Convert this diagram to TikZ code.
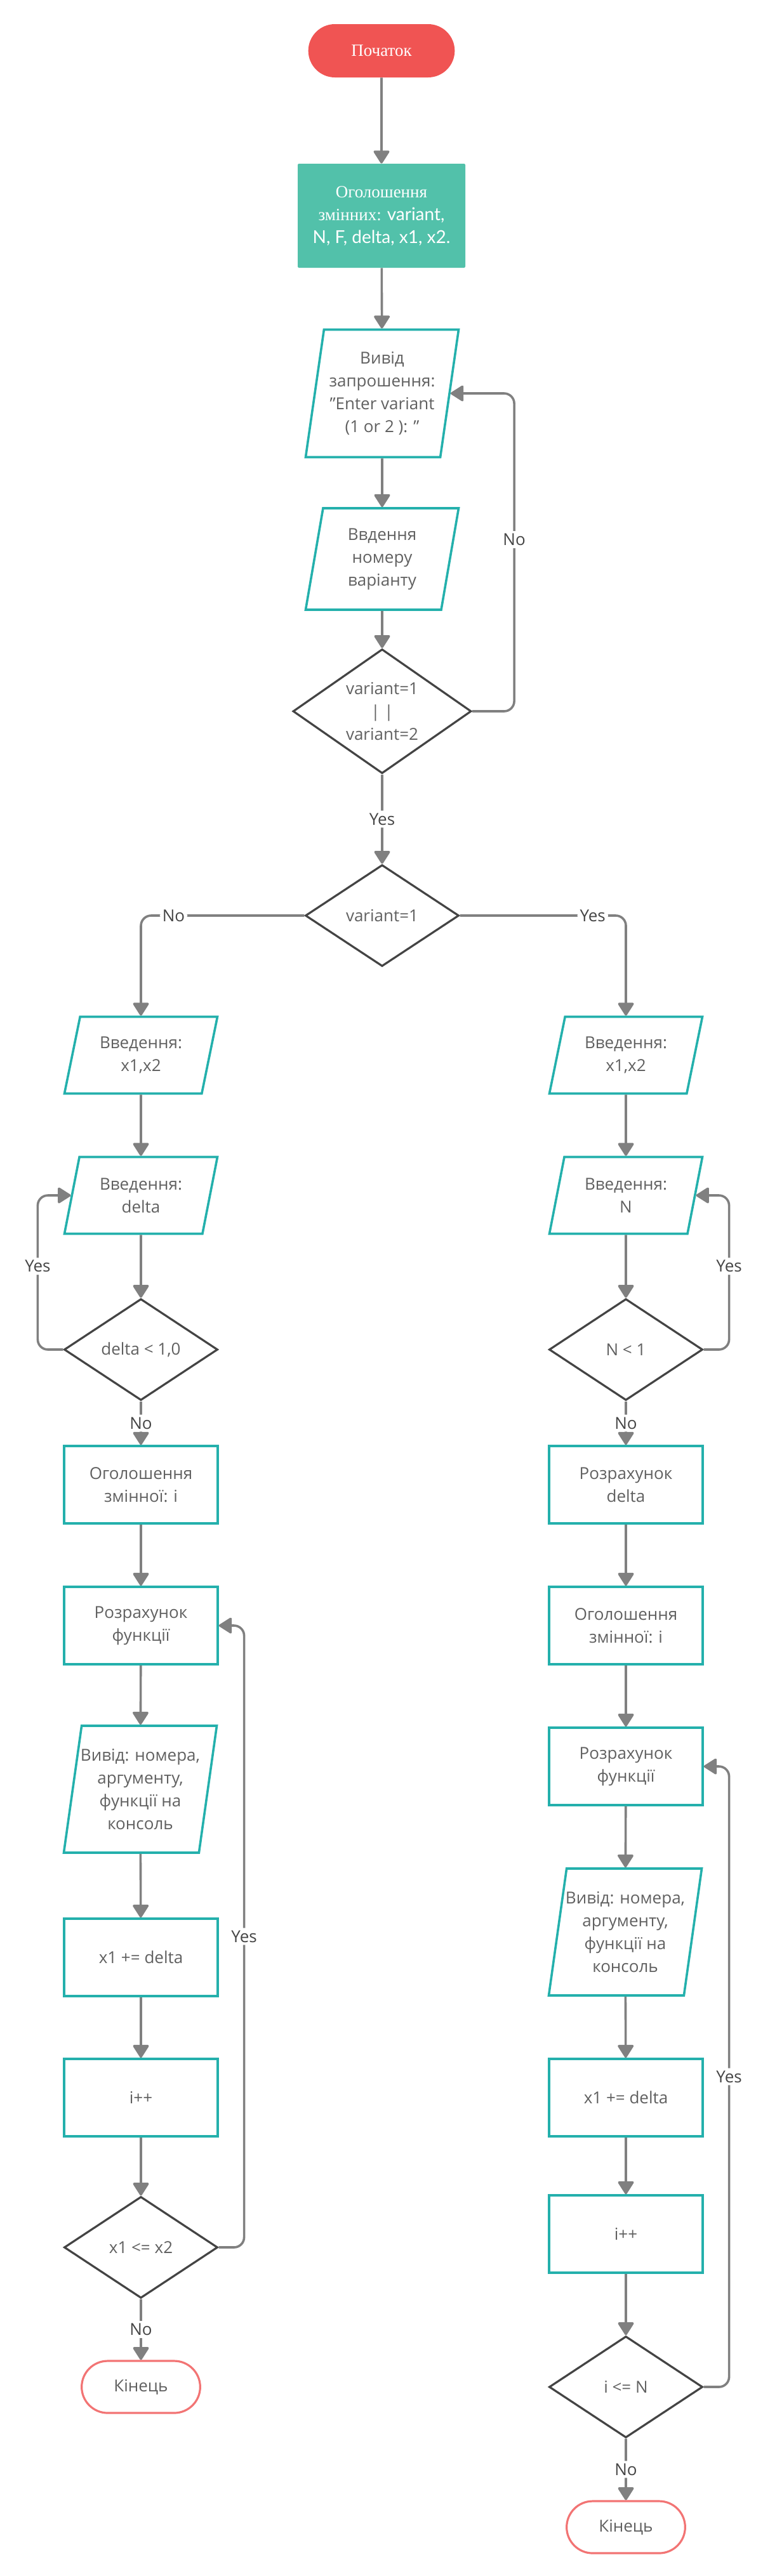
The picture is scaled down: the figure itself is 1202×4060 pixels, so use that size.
\documentclass[tikz,border=0pt]{standalone}
\usepackage{fontspec}
\setmainfont{Open Sans}
\newfontfamily\serifcyr{Liberation Serif}
\newfontfamily\latosans{Lato}
\usetikzlibrary{arrows.meta,shapes.geometric,shapes.misc}

\definecolor{startred}{HTML}{F05453}
\definecolor{endred}{HTML}{F27474}
\definecolor{declteal}{HTML}{52C1AA}
\definecolor{boxteal}{HTML}{24B0AC}
\definecolor{linegray}{HTML}{808080}
\definecolor{diagray}{HTML}{444444}
\definecolor{txtgray}{HTML}{606060}
\definecolor{lblgray}{HTML}{454545}

\begin{document}
\begin{tikzpicture}[x=0.5pt,y=-0.5pt,
  every node/.style={font=\fontsize{13}{18}\selectfont,text=txtgray,align=center},
  startnode/.style={rounded rectangle,fill=startred,minimum width=122pt,minimum height=42pt,
    text=white,font=\serifcyr\fontsize{13.5}{16}\selectfont},
  endnode/.style={rounded rectangle,draw=endred,line width=1.6pt,minimum width=100pt,minimum height=41pt},
  declbox/.style={rectangle,fill=declteal,rounded corners=1pt,minimum width=132pt,minimum height=82pt,
    text=white,font=\serifcyr\fontsize{13.5}{18}\selectfont},
  procbox/.style={rectangle,draw=boxteal,line width=1.8pt,minimum width=121pt,minimum height=61pt},
  iobox/.style 2 args={trapezium,trapezium stretches body,draw=boxteal,line width=1.8pt,
    trapezium left angle=#1,trapezium right angle=180-#1,minimum width=120.5pt,minimum height=#2,
    inner xsep=-15pt},
  decision/.style={diamond,draw=diagray,line width=1.6pt,inner sep=0pt,aspect=1.4,
    minimum width=121pt,minimum height=80pt},
  lbl/.style={fill=white,inner sep=2pt,text=lblgray},
  arr/.style={draw=linegray,line width=1.8pt,rounded corners=8pt,
    -{Triangle[length=11pt,width=13.5pt,round]}}]

  \useasboundingbox (0,0) rectangle (1202,4060);

  % top part
  \node[startnode] (start) at (601,80) {Початок};
  \node[declbox] (decl) at (601,340) {Оголошення\\змінних: {\latosans\fontsize{14}{18}\selectfont variant,}\\
    {\latosans\fontsize{14}{18}\selectfont N, F, delta, x1, x2.}};
  \node[iobox={78.7}{100.5pt}] (prompt) at (602,620) {Вивід\\запрошення:\\"Enter variant\\(1 or 2 ): "};
  \node[iobox={76}{80pt}] (readv) at (602,881) {Ввдення\\номеру\\варіанту};
  \node[decision,minimum width=140.5pt,minimum height=98pt] (chk) at (602,1121) {variant=1\\| |\\variant=2};
  \node[decision] (choice) at (602,1443) {variant=1};

  % variant 2
  \node[iobox={70.9}{60.5pt}] (inL) at (222,1663) {Введення:\\x1,x2};
  \node[iobox={70.9}{60.5pt}] (dL) at (222,1884) {Введення:\\delta};
  \node[decision] (cL) at (222,2127) {delta < 1,0};
  \node[procbox] (declL) at (222,2340) {Оголошення\\змінної: і};
  \node[procbox] (calcL) at (222,2562) {Розрахунок\\функції};
  \node[iobox={78.7}{100pt}] (outL) at (221,2820) {Вивід: номера,\\аргументу,\\функції на\\консоль};
  \node[procbox] (addL) at (222,3085) {x1 += delta};
  \node[procbox] (incL) at (222,3306) {i++};
  \node[decision] (loopL) at (222,3542) {x1 <= x2};
  \node[endnode] (endL) at (222,3762) {Кінець};

  % variant 1
  \node[iobox={70.9}{60.5pt}] (inR) at (986,1663) {Введення:\\x1,x2};
  \node[iobox={70.9}{60.5pt}] (nR) at (986,1884) {Введення:\\N};
  \node[decision] (cR) at (986,2127) {N < 1};
  \node[procbox] (deltaR) at (986,2340) {Розрахунок\\delta};
  \node[procbox] (declR) at (986,2562) {Оголошення\\змінної: і};
  \node[procbox] (calcR) at (986,2784) {Розрахунок\\функції};
  \node[iobox={78.7}{100pt}] (outR) at (985,3045) {Вивід: номера,\\аргументу,\\функції на\\консоль};
  \node[procbox] (addR) at (986,3306) {x1 += delta};
  \node[procbox] (incR) at (986,3521) {i++};
  \node[decision] (loopR) at (986,3762) {i <= N};
  \node[endnode] (endR) at (986,3983) {Кінець};

  \foreach \a/\b in {start/decl,decl/prompt,prompt/readv,readv/chk,
      inL/dL,dL/cL,declL/calcL,calcL/outL,outL/addL,addL/incL,incL/loopL,
      inR/nR,nR/cR,deltaR/declR,declR/calcR,calcR/outR,outR/addR,addR/incR,incR/loopR}
    \draw[arr] (\a) -- (\b);

  \draw[arr] (chk) -- node[lbl] {Yes} (choice);
  \draw[arr] (chk.east) -- ++(66,0) |- node[lbl,pos=0.27] {No} (prompt.east);
  \draw[arr] (choice.west) -| node[lbl,pos=0.4] {No} (inL.north);
  \draw[arr] (choice.east) -| node[lbl,pos=0.4] {Yes} (inR.north);

  \draw[arr] (cL.west) -- ++(-40,0) |- node[lbl,pos=0.27] {Yes} (dL.west);
  \draw[arr] (cL) -- node[lbl] {No} (declL);
  \draw[arr] (loopL.east) -- ++(40,0) |- node[lbl,pos=0.25] {Yes} (calcL.east);
  \draw[arr] (loopL) -- node[lbl] {No} (endL);

  \draw[arr] (cR.east) -- ++(40,0) |- node[lbl,pos=0.27] {Yes} (nR.east);
  \draw[arr] (cR) -- node[lbl] {No} (deltaR);
  \draw[arr] (loopR.east) -- ++(40,0) |- node[lbl,pos=0.25] {Yes} (calcR.east);
  \draw[arr] (loopR) -- node[lbl] {No} (endR);
\end{tikzpicture}
\end{document}
